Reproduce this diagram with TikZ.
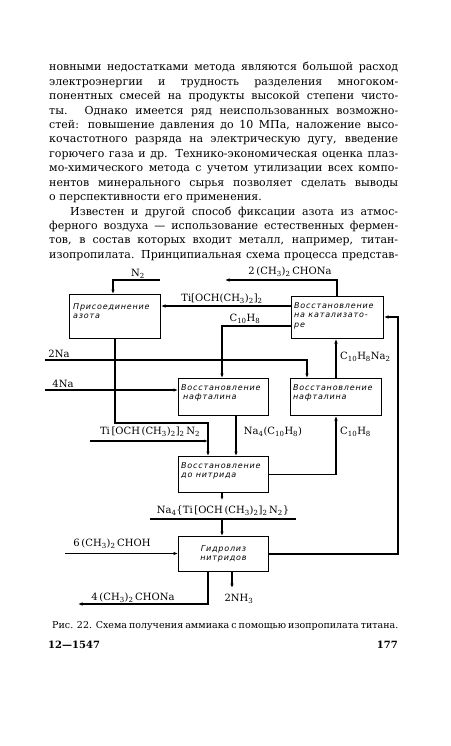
\documentclass[tikz,border=0pt]{standalone}
\usepackage{fontspec}
\setmainfont{DejaVu Serif}
\newfontfamily\procfont{DejaVu Sans}[LetterSpace=10]
\usetikzlibrary{arrows.meta}
\newcommand\ls[1]{\textsubscript{#1}}
\begin{document}
\begin{tikzpicture}[x=1pt,y=-1pt,
  body/.style={anchor=base west,inner sep=0pt,font=\fontsize{11}{14}\selectfont},
  proc/.style={draw,line width=1pt,anchor=north west,inner sep=0pt},
  ptext/.style={anchor=north west,inner sep=0pt,align=left,font=\procfont\itshape\fontsize{8}{9.8}\selectfont},
  lbl/.style={inner sep=0pt,font=\fontsize{10}{12}\selectfont},
  wire/.style={line width=1.2pt},
  flow/.style={wire,-{Latex[length=4.5pt,width=3.5pt]}},
]
\path[use as bounding box,fill=white] (0,0) rectangle (450,746);

% ---- running text ----
\node[body] (t1) at (49,71.0) {\makebox[349pt][s]{новными недостатками метода являются большой расход}};
\node[body] (t2) at (49,85.4) {\makebox[349pt][s]{электроэнергии и трудность разделения многоком-}};
\node[body] (t3) at (49,99.8) {\makebox[349pt][s]{понентных смесей на продукты высокой степени чисто-}};
\node[body] (t4) at (49,114.2) {\makebox[349pt][s]{ты. Однако имеется ряд неиспользованных возможно-}};
\node[body] (t5) at (49,128.6) {\makebox[349pt][s]{стей: повышение давления до 10 МПа, наложение высо-}};
\node[body] (t6) at (49,143.0) {\makebox[349pt][s]{кочастотного разряда на электрическую дугу, введение}};
\node[body] (t7) at (49,157.4) {\makebox[349pt][s]{горючего газа и др. Технико-экономическая оценка плаз-}};
\node[body] (t8) at (49,171.8) {\makebox[349pt][s]{мо-химического метода с учетом утилизации всех компо-}};
\node[body] (t9) at (49,186.2) {\makebox[349pt][s]{нентов минерального сырья позволяет сделать выводы}};
\node[body] (t10) at (49,200.6) {о перспективности его применения.};
\node[body] (t11) at (70,215.0) {\makebox[328pt][s]{Известен и другой способ фиксации азота из атмос-}};
\node[body] (t12) at (49,229.4) {\makebox[349pt][s]{ферного воздуха — использование естественных фермен-}};
\node[body] (t13) at (49,243.8) {\makebox[349pt][s]{тов, в состав которых входит металл, например, титан-}};
\node[body] (t14) at (49,258.2) {\makebox[349pt][s]{изопропилата. Принципиальная схема процесса представ-}};

% ---- process boxes ----
\node[proc,minimum width=91pt,minimum height=44pt] (b1) at (69,294) {};
\node[proc,minimum width=92pt,minimum height=42pt] (b2) at (291,296) {};
\node[proc,minimum width=90pt,minimum height=37pt] (b3) at (178,378) {};
\node[proc,minimum width=91pt,minimum height=37pt] (b4) at (290,378) {};
\node[proc,minimum width=90pt,minimum height=36pt] (b5) at (178,456) {};
\node[proc,minimum width=90pt,minimum height=35pt] (b6) at (178,536) {};

\node[ptext] (b1t) at (73,303) {Присоединение\\азота};
\node[ptext] (b2t) at (294,302) {Восстановление\\на катализато-\\ре};
\node[ptext] (b3t) at (181,384) {Восстановление\\\hspace*{2pt}нафталина};
\node[ptext] (b4t) at (293,384) {Восстановление\\нафталина};
\node[ptext] (b5t) at (181,462) {Восстановление\\до нитрида};
\node[ptext,anchor=center,align=center] (b6t) at (b6.center) {Гидролиз\\нитридов};

% ---- free ends ----
\coordinate (n2in) at (160,280);
\coordinate (onaout) at (225,280);
\coordinate (na2in) at (45,360);
\coordinate (na4in) at (45,390);
\coordinate (tiL) at (90,441);
\coordinate (tiR) at (208,441);
\coordinate (naL) at (150,519);
\coordinate (naR) at (296,519);
\coordinate (ohin) at (65,553.5);
\coordinate (rt) at (398,317);
\coordinate (onaout2) at (78,604);
\coordinate (nh3) at (232,588);

% ---- connectors ----
\draw[flow] (n2in) -| ([xshift=44pt]b1.north west);
\draw[flow] ([xshift=46pt]b2.north west) |- (onaout);
\coordinate (tiy) at ([yshift=-10pt]b2.north west);
\draw[flow] (tiy) -- (tiy -| b1.east);
\draw[flow] ([yshift=-30pt]b2.north west) -| ([xshift=44pt]b3.north west);
\draw[flow] (na2in) -| ([xshift=17pt]b4.north west);
\draw[flow] (na4in) -- (na4in -| b3.west);
\draw[flow] ([xshift=46pt]b1.south west) -- ++(0,84) -| ([xshift=30pt]b5.north west);
\draw[wire,-{Latex[length=4pt,width=3pt]}] (tiL) -- (tiR);
\draw[flow] ([xshift=58pt]b3.south west) -- ([xshift=58pt]b5.north west);
\draw[flow] ([xshift=46pt]b4.north west) -- ([xshift=45pt]b2.south west);
\draw[flow] (b5.east) -| ([xshift=46pt]b4.south west);
\draw[wire,-{Latex[length=3.5pt,width=3pt]}] ([xshift=44pt]b5.south west) -- ++(0,7);
\draw[wire] (naL) -- (naR);
\draw[flow] ([xshift=44pt]b5.south west |- naL) -- ([xshift=44pt]b6.north west);
\draw[flow] (ohin) -- (ohin -| b6.west);
\draw[flow] (b6.east) -| (rt) -- (rt -| b2.east);
\draw[flow] ([xshift=30pt]b6.south west) |- (onaout2);
\draw[flow] ([xshift=54pt]b6.south west) -- (nh3);

% ---- labels ----
\node[lbl] (lN2) at (138,274) {N\ls{2}};
\node[lbl] (lona) at (290,272) {2\,(CH\ls{3})\ls{2}\,CHONa};
\node[lbl] (lti) at (222,299) {Ti[OCH(CH\ls{3})\ls{2}]\ls{2}};
\node[lbl] (lc10a) at (245,319) {C\ls{10}H\ls{8}};
\node[lbl] (l2na) at (59,354) {2Na};
\node[lbl] (l4na) at (63,384) {4Na};
\node[lbl,anchor=west] (lc10na) at (340,357) {C\ls{10}H\ls{8}Na\ls{2}};
\node[lbl] (ltin) at (150,432) {Ti\,[OCH\,(CH\ls{3})\ls{2}]\ls{2}\,N\ls{2}};
\node[lbl] (lna4) at (273,432) {Na\ls{4}(C\ls{10}H\ls{8})};
\node[lbl,anchor=west] (lc10b) at (340,432) {C\ls{10}H\ls{8}};
\node[lbl] (lnat) at (223,511) {Na\ls{4}\{Ti\,[OCH\,(CH\ls{3})\ls{2}]\ls{2}\,N\ls{2}\}};
\node[lbl] (loh) at (112,544) {6\,(CH\ls{3})\ls{2}\,CHOH};
\node[lbl] (lona2) at (133,598) {4\,(CH\ls{3})\ls{2}\,CHONa};
\node[lbl] (lnh3) at (239,599) {2NH\ls{3}};

% ---- caption & footer ----
\node[body,font=\fontsize{9.5}{12}\selectfont] (cap) at (52,628) {\makebox[345pt][s]{Рис. 22. Схема получения аммиака с помощью изопропилата титана.}};
\node[body,font=\bfseries\fontsize{10}{13}\selectfont] (sig) at (48,648) {12—1547};
\node[body,anchor=base east,font=\bfseries\fontsize{10}{13}\selectfont] (pg) at (398,648) {177};
\end{tikzpicture}
\end{document}
